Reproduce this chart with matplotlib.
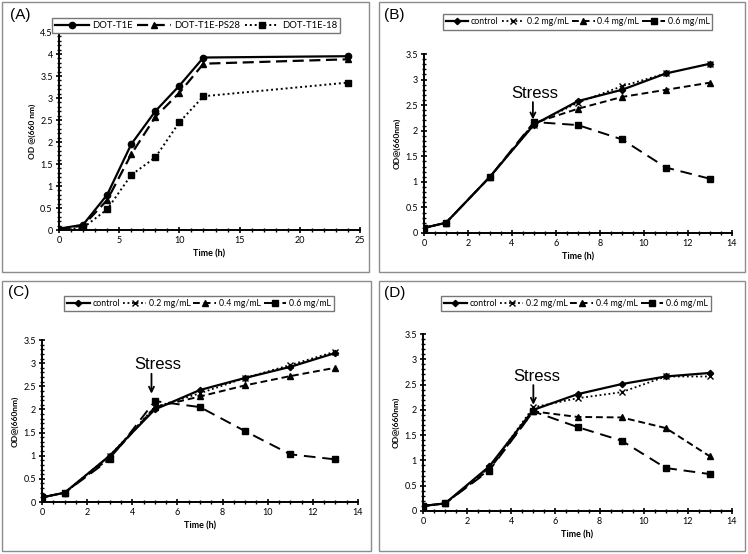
import matplotlib
matplotlib.use("Agg")
import matplotlib.pyplot as plt
from matplotlib.patches import Rectangle
from matplotlib.ticker import MultipleLocator, FormatStrFormatter

plt.rcParams["font.family"] = ["Lato", "DejaVu Sans"]

# panel A
time_a = [0, 2, 4, 6, 8, 10, 12, 24]
t1e = [0.03, 0.12, 0.80, 1.95, 2.70, 3.28, 3.92, 3.95]
t1e_ps28 = [0.02, 0.10, 0.68, 1.72, 2.57, 3.12, 3.78, 3.88]
t1e_18 = [0.01, 0.05, 0.47, 1.25, 1.65, 2.45, 3.04, 3.35]
labels_a = ["DOT-T1E", "DOT-T1E-PS28", "DOT-T1E-18"]

# panels B-D
time_s = [0, 1, 3, 5, 7, 9, 11, 13]
labels_s = ["control", "0.2 mg/mL", "0.4 mg/mL", "0.6 mg/mL"]

b_control = [0.10, 0.20, 1.10, 2.12, 2.58, 2.80, 3.12, 3.31]
b_02 = [0.10, 0.20, 1.10, 2.12, 2.55, 2.87, 3.12, 3.31]
b_04 = [0.10, 0.20, 1.10, 2.15, 2.43, 2.66, 2.80, 2.94]
b_06 = [0.10, 0.20, 1.10, 2.17, 2.11, 1.83, 1.28, 1.06]

c_control = [0.10, 0.20, 1.00, 2.00, 2.42, 2.68, 2.92, 3.22]
c_02 = [0.10, 0.20, 1.00, 2.05, 2.35, 2.68, 2.96, 3.25]
c_04 = [0.10, 0.20, 0.95, 2.05, 2.28, 2.52, 2.72, 2.90]
c_06 = [0.10, 0.20, 0.92, 2.18, 2.05, 1.53, 1.03, 0.92]

d_control = [0.10, 0.15, 0.88, 2.00, 2.31, 2.51, 2.66, 2.73]
d_02 = [0.10, 0.15, 0.85, 2.05, 2.23, 2.35, 2.66, 2.66]
d_04 = [0.10, 0.15, 0.82, 1.97, 1.86, 1.85, 1.64, 1.08]
d_06 = [0.10, 0.15, 0.80, 1.97, 1.66, 1.39, 0.85, 0.73]

W, H = 748, 554


def px_rect(x0, y0, x1, y1):
    # pixel box (top-left origin) -> figure fraction [l, b, w, h]
    return [x0 / W, (H - y1) / H, (x1 - x0) / W, (y1 - y0) / H]


def style_axes(ax, xmax, xmajor, xminor, ymax, ylabel):
    ax.set_xlim(0, xmax)
    ax.set_ylim(0, ymax)
    ax.xaxis.set_major_locator(MultipleLocator(xmajor))
    ax.xaxis.set_minor_locator(MultipleLocator(xminor))
    ax.yaxis.set_major_locator(MultipleLocator(0.5))
    ax.yaxis.set_minor_locator(MultipleLocator(0.1))
    ax.yaxis.set_major_formatter(FormatStrFormatter("%g"))
    ax.xaxis.set_major_formatter(FormatStrFormatter("%g"))
    for side in ["top", "right"]:
        ax.spines[side].set_visible(False)
    for side in ["left", "bottom"]:
        ax.spines[side].set_linewidth(1.4)
    ax.tick_params(which="major", direction="inout", length=5, width=1.2, labelsize=6.5, pad=2)
    ax.tick_params(which="minor", direction="inout", length=2.5, width=1.0)
    ax.set_xlabel("Time (h)", fontsize=6.5, fontweight="bold", labelpad=3)
    ax.set_ylabel(ylabel, fontsize=6, fontweight="bold", labelpad=3)


def add_legend(ax, box, size, handle, spacing):
    x0, y0, x1, y1 = box
    ax.legend(loc="center", bbox_to_anchor=((x0 + x1) / 2 / W, 1 - (y0 + y1) / 2 / H),
              bbox_transform=fig.transFigure, ncol=4, fontsize=size, frameon=True,
              fancybox=False, edgecolor="#777777", framealpha=1, handlelength=handle,
              handletextpad=0.3, columnspacing=spacing, borderpad=0.35, borderaxespad=0)


fig = plt.figure(figsize=(7.48, 5.54), dpi=100)

# gray panel borders
for box in [(2, 2, 369, 272), (379, 2, 745, 272), (2, 281, 371, 551), (379, 281, 745, 551)]:
    l, b, w, h = px_rect(*box)
    fig.add_artist(Rectangle((l, b), w, h, transform=fig.transFigure, fill=False,
                             ec="#8c8c8c", lw=1.0))

# panel A
ax_a = fig.add_axes(px_rect(59, 32, 360, 230))
ax_a.plot(time_a, t1e, "-", color="black", lw=1.6, marker="o", ms=4.5, label=labels_a[0])
ax_a.plot(time_a, t1e_ps28, color="black", lw=1.6, ls=(0, (5, 2.5)), marker="^", ms=4.5, label=labels_a[1])
ax_a.plot(time_a, t1e_18, color="black", lw=1.4, ls=(0, (1, 1.5)), marker="s", ms=4.5, label=labels_a[2])
style_axes(ax_a, 25, 5, 1, 4.5, "OD @(660 nm)")
add_legend(ax_a, (84, 18, 308, 33), 6.8, 3.6, 0.5)
fig.text(10 / W, 1 - 15 / H, "(A)", fontsize=11, family="Liberation Sans", va="center")

stress_panels = [
    ("(B)", px_rect(424, 54, 732, 233), (b_control, b_02, b_04, b_06), (447, 16, 708, 28),
     (5.05, 2.72, 4.95, 2.56, 2.22), (384, 15)),
    ("(C)", px_rect(42, 340, 358, 502), (c_control, c_02, c_04, c_06), (73, 294, 325, 313),
     (5.15, 2.97, 4.85, 2.77, 2.34), (8, 292)),
    ("(D)", px_rect(423, 334, 732, 511), (d_control, d_02, d_04, d_06), (448, 295, 704, 312),
     (5.15, 2.66, 5.0, 2.49, 2.10), (384, 293)),
]

for tag, rect, series, legbox, stress, tagpos in stress_panels:
    ax = fig.add_axes(rect)
    control, s02, s04, s06 = series
    ax.plot(time_s, control, "-", color="black", lw=1.6, marker="D", ms=3.2, label=labels_s[0])
    ax.plot(time_s, s02, color="black", lw=1.3, ls=(0, (1, 1.5)), marker="x", ms=4, mew=1.0, label=labels_s[1])
    ax.plot(time_s, s04, color="black", lw=1.4, ls=(0, (3.5, 2)), marker="^", ms=4, label=labels_s[2])
    ax.plot(time_s, s06, color="black", lw=1.4, ls=(0, (6, 3.5)), marker="s", ms=4.5, label=labels_s[3])
    style_axes(ax, 14, 2, 0.5, 3.5, "OD@(660nm)")
    add_legend(ax, legbox, 6.3, 2.6, 0.35)
    tx, ty, axx, ay0, ay1 = stress
    ax.text(tx, ty, "Stress", ha="center", va="center", fontsize=12, family="Liberation Sans")
    ax.annotate("", xy=(axx, ay1), xytext=(axx, ay0),
                arrowprops=dict(arrowstyle="->", lw=1.3, color="black",
                                mutation_scale=9, shrinkA=0, shrinkB=0))
    fig.text(tagpos[0] / W, 1 - tagpos[1] / H, tag, fontsize=11, family="Liberation Sans", va="center")

fig.savefig("out.png", dpi=100)
